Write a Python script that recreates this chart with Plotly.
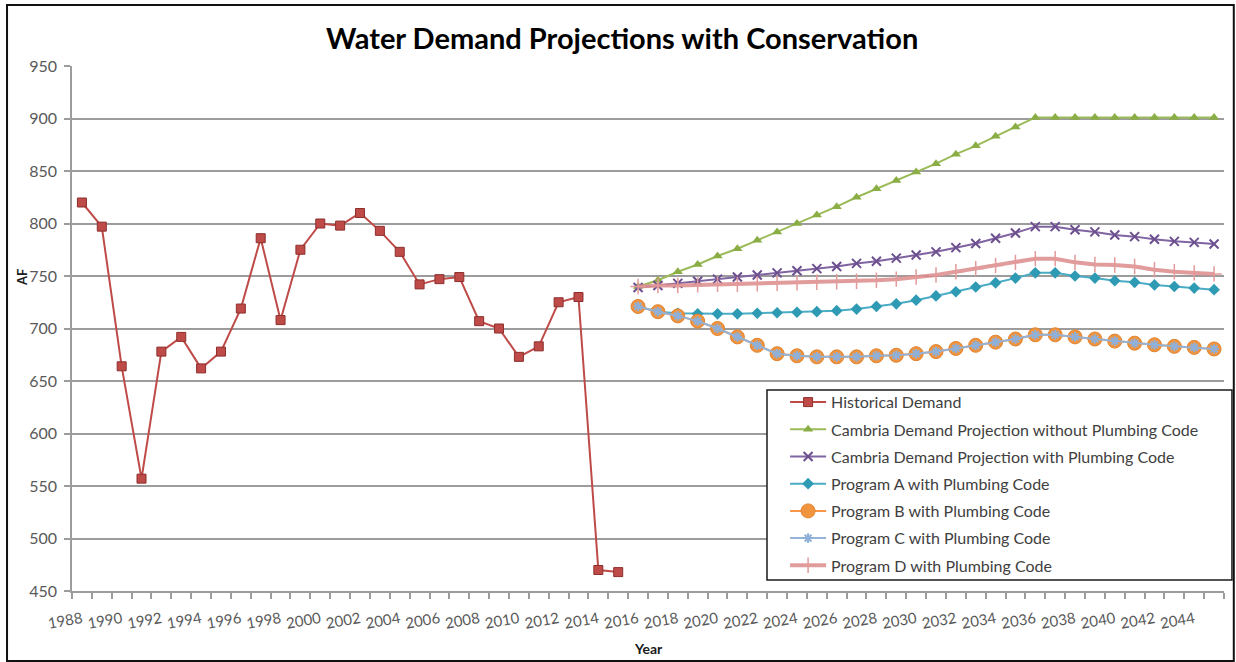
import plotly.graph_objects as go

# Historical water demand (AF), 1988-2015
hist_years = list(range(1988, 2016))
historical = [820, 797, 664, 557, 678, 692, 662, 678, 719, 786, 708, 775, 800, 798,
              810, 793, 773, 742, 747, 749, 707, 700, 673, 683, 725, 730, 470, 468]

# Projections (AF), 2016-2045
proj_years = list(range(2016, 2046))
no_code = [740, 746, 754, 761, 769, 776, 784, 792, 800, 808, 816, 825, 833, 841, 849,
           857, 866, 874, 883, 892, 901, 901, 901, 901, 901, 901, 901, 901, 901, 901]
with_code = [739, 741, 743, 745, 747, 749, 751, 753, 755, 757, 759, 762, 764, 767, 770,
             773, 777, 781, 786, 791, 797, 797, 794, 792, 789, 787.5, 785, 783, 782, 780.5]
program_a = [721, 716, 714.5, 714, 714, 714, 714.5, 715, 715.5, 716, 717, 718.5, 721, 723.5, 727,
             731, 735, 739.5, 743.5, 748, 753, 753, 750, 748, 745.5, 744, 741.5, 740, 738.5, 737]
program_b = [721, 716, 712, 707, 700, 692, 684, 676, 674, 673, 673, 673, 674, 674.5, 676,
             678, 681, 684, 687, 690, 694, 694, 692, 690, 688, 686, 684.5, 683, 682, 680.5]
program_c = list(program_b)
program_d = [740, 741, 741, 741.5, 742, 742, 742.5, 743, 743.5, 744, 744.5, 745, 746, 747, 749,
             751, 754, 757, 760, 763, 766.5, 766.5, 763, 761, 760.5, 759, 756, 754, 753, 752]

label_years = list(range(1988, 2045, 2))
boundaries = [y - 0.5 for y in range(1988, 2047)]

FONT = "Lato"
GRID = "#9C9C9C"
TXT = "#595959"

fig = go.Figure()

fig.add_trace(go.Scatter(
    x=hist_years, y=historical, name="Historical Demand", mode="lines+markers",
    line=dict(color="#BE4B48", width=2),
    marker=dict(symbol="square", size=9, color="#BE4B48", line=dict(color="#8C2F2D", width=1)),
    legendgroup="h"))
fig.add_trace(go.Scatter(
    x=proj_years, y=no_code, name="Cambria Demand Projection without Plumbing Code",
    mode="lines+markers", line=dict(color="#9BBB59", width=2),
    marker=dict(symbol="triangle-up", size=9, color="#8AAE45"),
    legendgroup="g"))
fig.add_trace(go.Scatter(
    x=proj_years, y=with_code, name="Cambria Demand Projection with Plumbing Code",
    mode="lines+markers", line=dict(color="#8064A2", width=2),
    marker=dict(symbol="x-thin-open", size=9, color="#6B4F8E", line=dict(width=2)),
    legendgroup="p"))
fig.add_trace(go.Scatter(
    x=proj_years, y=program_a, name="Program A with Plumbing Code",
    mode="lines+markers", line=dict(color="#4BACC6", width=2),
    marker=dict(symbol="diamond", size=9, color="#2E9AB3"),
    legendgroup="a"))
fig.add_trace(go.Scatter(
    x=proj_years, y=program_b, name="Program B with Plumbing Code",
    mode="lines+markers", line=dict(color="#F79646", width=2),
    marker=dict(symbol="circle", size=14, color="#F0943F", line=dict(color="#E0832E", width=1)),
    legendgroup="b"))
fig.add_trace(go.Scatter(
    x=proj_years, y=program_c, name="Program C with Plumbing Code",
    mode="lines+markers", line=dict(color="#95B3D7", width=2),
    marker=dict(symbol="asterisk-open", size=8, color="#8FB0D8", line=dict(width=2)),
    legendgroup="c"))
fig.add_trace(go.Scatter(
    x=proj_years, y=program_d, name="Program D with Plumbing Code",
    mode="lines+markers", line=dict(color="rgba(220,140,140,0.85)", width=4),
    marker=dict(symbol="cross-thin-open", size=11, color="#E39A9A", line=dict(width=1.5)),
    legendgroup="d"))

fig.update_layout(
    width=1236, height=662,
    margin=dict(l=72, r=12, t=66, b=71),
    paper_bgcolor="white", plot_bgcolor="white",
    font=dict(family=FONT, size=15, color=TXT),
    showlegend=True,
    legend=dict(
        x=0.619, y=0.392, xanchor="left", yanchor="top",
        bgcolor="rgba(255,255,255,0)", borderwidth=0,
        font=dict(family=FONT, size=16, color="#404040"),
        tracegroupgap=3.4, traceorder="grouped", itemwidth=36,
    ),
    xaxis=dict(
        range=[1987.5, 2045.5], tickmode="array", tickvals=label_years,
        ticktext=[str(y) for y in label_years], tickangle=-10,
        ticks="outside", ticklen=6, tickcolor="rgba(0,0,0,0)", ticklabelstandoff=6,
        showgrid=False, zeroline=False, showline=True, linecolor=GRID, linewidth=1.5,
        tickfont=dict(family=FONT, size=15, color=TXT),
        minor=dict(tickmode="array", tickvals=boundaries, ticks="outside",
                   ticklen=6, tickcolor=GRID, tickwidth=1.5, showgrid=False),
    ),
    yaxis=dict(
        range=[450, 950], dtick=50, tick0=450,
        ticks="outside", ticklen=6, tickcolor=GRID, tickwidth=1.5,
        showgrid=True, gridcolor=GRID, gridwidth=1.5,
        zeroline=False, showline=True, linecolor=GRID, linewidth=1.5,
        tickfont=dict(family=FONT, size=16, color=TXT), ticklabelstandoff=4,
    ),
    annotations=[
        dict(text="<b>Water Demand Projections with Conservation</b>", xref="paper", yref="paper",
             x=0.4774, y=1.055, xanchor="center", yanchor="middle", showarrow=False,
             font=dict(family=FONT, size=29, color="black")),
        dict(text="<b>AF</b>", xref="paper", yref="paper", x=-0.0434, y=0.596,
             xanchor="center", yanchor="middle", textangle=-90, showarrow=False,
             font=dict(family=FONT, size=13, color="#1A1A1A")),
        dict(text="<b>Year</b>", xref="paper", yref="paper", x=0.5, y=-0.1086,
             xanchor="center", yanchor="middle", showarrow=False,
             font=dict(family=FONT, size=14, color="#1A1A1A")),
    ],
    shapes=[
        # legend frame (white fill hides the gridlines behind the legend)
        dict(type="rect", xref="paper", yref="paper", x0=0.6033, x1=1.0069,
             y0=(591 - 580) / 525, y1=(591 - 390) / 525,
             fillcolor="white", line=dict(color="#1A1A1A", width=1.5), layer="above"),
        # outer chart border
        dict(type="rect", xref="paper", yref="paper", x0=-0.0564, x1=1.0085,
             y0=-0.1333, y1=1.1162, line=dict(color="#111111", width=2), layer="above"),
    ],
)

fig.write_html("out.html")
